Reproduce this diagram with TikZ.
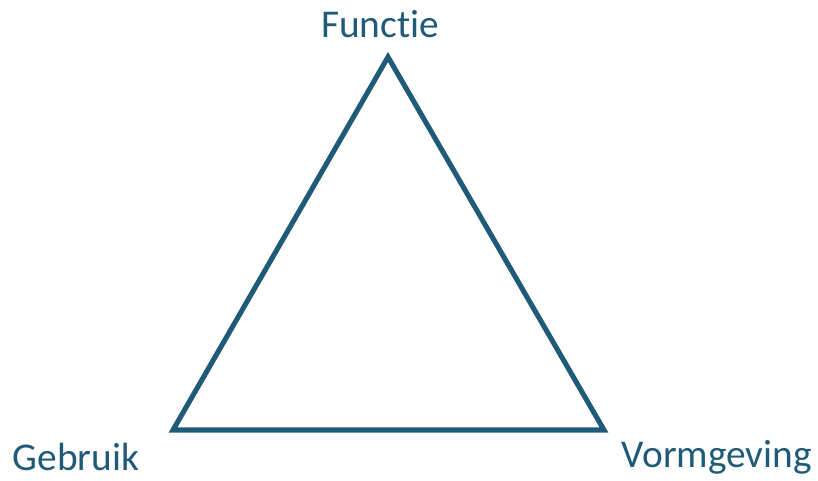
\documentclass[tikz,border=0pt]{standalone}
\usepackage{fontspec}
\setmainfont{Carlito}[Ligatures={NoCommon}]
\definecolor{teal}{RGB}{31,90,120}
\tikzset{
    hoek/.style={font=\fontsize{28}{32}\selectfont, text=teal, inner sep=0pt, anchor=base}
}
\begin{document}
\begin{tikzpicture}
                % Fixed canvas (818 x 480 px)
                \useasboundingbox (0,0) rectangle (20.45,12);
                
                % Corners of the triangle
                \coordinate (top) at (9.7,10.575);
                \coordinate (links) at (4.325,1.25);
                \coordinate (rechts) at (15.1,1.25);
                \draw [teal, line width=3.6pt, line join=miter] (top) -- (links) -- (rechts) -- cycle;
                
                % Labels
                \node [hoek] (functie) at (9.5,11.05) {Functie};
                \node [hoek] (gebruik) at (1.9,0.24) {Gebruik};
                \node [hoek] (vormgeving) at (17.92,0.32) {Vormgeving};
            \end{tikzpicture}
\end{document}
